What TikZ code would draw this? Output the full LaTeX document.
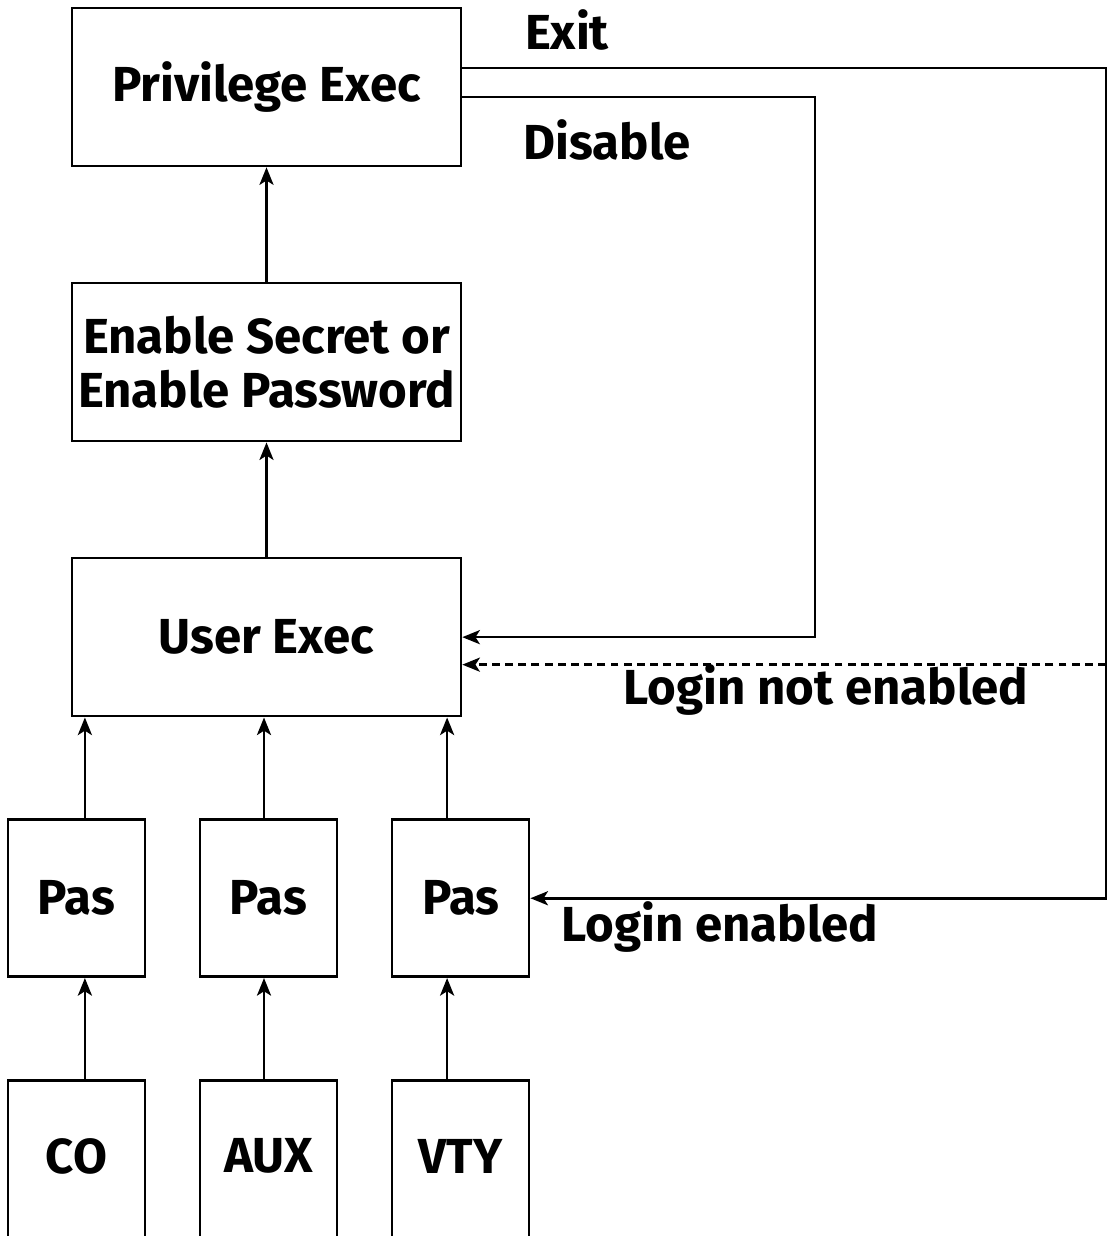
\documentclass[tikz,border=0pt]{standalone}
\usepackage{fontspec}
\setmainfont{Fira Sans}
\usepackage{tikz}
\usetikzlibrary{arrows.meta, positioning}

\begin{document}
\begin{tikzpicture}[x=0.02cm, y=-0.02cm, line width=1.5pt, node distance=2.29cm,
    >={Stealth[length=10pt, width=8pt, inset=2.5pt]},
    font=\fontsize{28}{30.6}\selectfont\bfseries,
    modebox/.style={draw, rectangle, align=center, minimum width=7.78cm, minimum height=3.16cm},
    pasbox/.style={draw, rectangle, minimum width=2.74cm, minimum height=3.14cm},
    portbox/.style={draw, rectangle, minimum width=2.74cm, minimum height=3.6cm, anchor=north}]
        \clip (0,0) rectangle (1110,1236);
        % Modes
        \node (privilege) [modebox] at (266.5, 87) {Privilege Exec};
        \node (enable) [modebox, below=of privilege] {Enable Secret or\\Enable Password};
        \node (user) [modebox, below=of enable] {User Exec};

        % Password checks
        \node (pas2) [pasbox, below=2.02cm of user, xshift=0.04cm] {Pas};
        \node (pas1) [pasbox, left=1.05cm of pas2] {Pas};
        \node (pas3) [pasbox, right=1.05cm of pas2] {Pas};

        % Lines
        \node (co) [portbox, below=2.02cm of pas1.south] {};
        \node (aux) [portbox, below=2.02cm of pas2.south] {};
        \node (vty) [portbox, below=2.02cm of pas3.south] {};
        \node (colabel) at (76.5, 1156) {CO};
        \node (auxlabel) at (268.5, 1156) {AUX};
        \node (vtylabel) at (460.5, 1156) {VTY};

        % Rails on the right
        \coordinate (midrail) at (815, 0);
        \coordinate (rightrail) at (1106, 0);

        % Arrows
        \draw[->] (enable) -- (privilege);
        \draw[->] (user) -- (enable);
        \draw[->] ([xshift=0.17cm]pas1.north) -- ([xshift=0.17cm]pas1.north |- user.south);
        \draw[->] ([xshift=-0.09cm]pas2.north) -- ([xshift=-0.09cm]pas2.north |- user.south);
        \draw[->] ([xshift=-0.27cm]pas3.north) -- ([xshift=-0.27cm]pas3.north |- user.south);
        \draw[->] ([xshift=0.17cm]co.north) -- ([xshift=0.17cm]pas1.south);
        \draw[->] ([xshift=-0.09cm]aux.north) -- ([xshift=-0.09cm]pas2.south);
        \draw[->] ([xshift=-0.27cm]vty.north) -- ([xshift=-0.27cm]pas3.south);

        \draw[->] ([yshift=0.38cm]privilege.east) -- ([yshift=0.38cm]privilege.east -| rightrail)
            -- (pas3.east -| rightrail) -- (pas3.east);
        \draw[->] ([yshift=-0.2cm]privilege.east) -- ([yshift=-0.2cm]privilege.east -| midrail)
            -- (user.east -| midrail) -- (user.east);
        \draw[->, dash pattern=on 4.5pt off 3pt] ([yshift=-0.55cm]user.east -| rightrail) -- ([yshift=-0.55cm]user.east);

        % Labels
        \node (exitlabel) at (567, 30) {Exit};
        \node (disablelabel) at (607, 140) {Disable};
        \node (notenabledlabel) at (826, 690) {Login not enabled};
        \node (enabledlabel) at (720, 927) {Login enabled};
    \end{tikzpicture}
\end{document}
